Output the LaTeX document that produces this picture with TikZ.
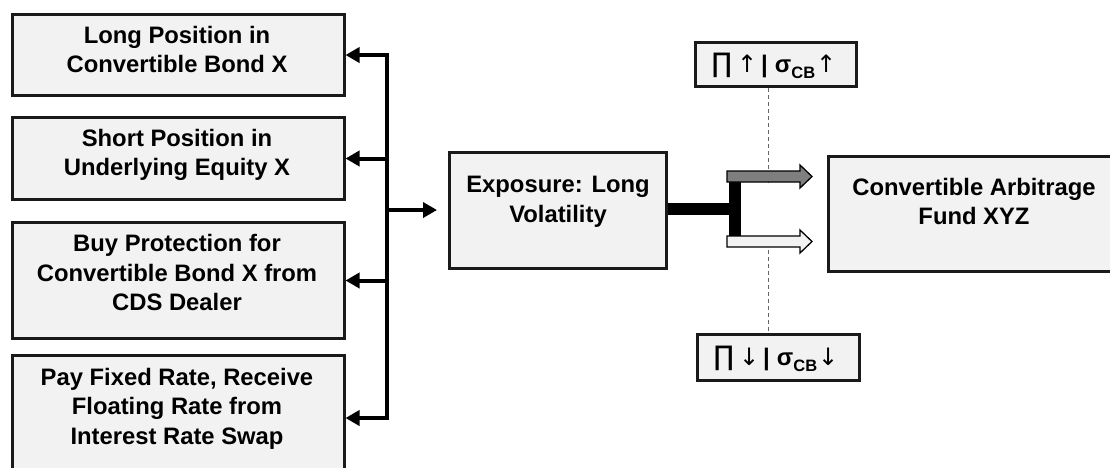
\documentclass[tikz,border=0pt]{standalone}
\usepackage{fontspec}
\setmainfont{Liberation Sans}
\newfontfamily\symfont{DejaVu Sans}
\usetikzlibrary{arrows.meta}
\definecolor{boxfill}{HTML}{F2F2F2}
\definecolor{boxline}{HTML}{1A1A1A}
\definecolor{darkarrow}{HTML}{7F7F7F}
\definecolor{dashgray}{HTML}{666666}
\tikzset{
  box/.style={draw=boxline, line width=3pt, fill=boxfill, inner sep=0pt},
  txt/.style={align=center, inner sep=0pt, font=\bfseries\fontsize{23.8}{29.5}\selectfont},
  symtxt/.style={inner sep=0pt, font=\fontsize{24}{24}\selectfont},
  bus/.style={line width=4pt, line join=miter, draw=black},
  tip/.style={-{Triangle[length=14pt,width=15pt]}},
  bothtips/.style={{Triangle[length=14pt,width=15pt]}-{Triangle[length=14pt,width=15pt]}},
  stem/.style={line width=12pt, draw=black},
  dashline/.style={draw=dashgray, line width=1pt, dash pattern=on 4pt off 3pt},
  blockarrow/.pic={
    \path[pic actions] (0,-5.5) -- (73,-5.5) -- (73,-11.5) -- (85,0)
      -- (73,11.5) -- (73,5.5) -- (0,5.5) -- cycle;
  }
}
% product sign, direction arrow, bar, sigma with CB index, direction arrow
\newcommand{\dirarrow}[1]{{\symfont\fontsize{24}{24}\selectfont #1}}
\newcommand{\sigcb}[1]{{\symfont\fontsize{27}{27}\selectfont\char"220F}\hspace{5pt}\dirarrow{#1}\hspace{4pt}\textbf{|}\hspace{7pt}\textbf{σ}\raisebox{-6pt}{\bfseries\fontsize{16.5}{16.5}\selectfont CB}\hspace{1pt}\dirarrow{#1}}

\begin{document}
\begin{tikzpicture}[x=1pt,y=-1pt]
\useasboundingbox (0,0) rectangle (1110,467);
\clip (0,0) rectangle (1110,467);

% left column of positions
\node[box, minimum width=332pt, minimum height=81pt] (pos1) at (178,55) {};
\node[box, minimum width=332pt, minimum height=82pt] (pos2) at (178,158.5) {};
\node[box, minimum width=332pt, minimum height=116pt] (pos3) at (178,280.5) {};
\node[box, minimum width=332pt, minimum height=125.5pt] (pos4) at (178,418) {};
\node[txt] (pos1t) at (177,49.5) {Long Position in\\Convertible Bond X};
\node[txt] (pos2t) at (177,155) {Short Position in\\Underlying Equity X};
\node[txt] (pos3t) at (177,272.5) {Buy Protection for\\Convertible Bond X from\\CDS Dealer};
\node[txt] (pos4t) at (177,408.5) {Pay Fixed Rate, Receive\\Floating Rate from\\Interest Rate Swap};

% exposure and fund
\node[box, minimum width=217pt, minimum height=116pt] (exp) at (558,210.5) {};
\node[txt] (expt) at (558,202) {Exposure: Long\\Volatility};
\node[box, minimum width=291.5pt, minimum height=115pt] (fund) at (974,214) {};
\node[txt] (fundt) at (974,201.5) {Convertible Arbitrage\\Fund XYZ};

% scenario labels
\node[box, minimum width=161pt, minimum height=44pt] (up) at (776,64.5) {};
\node[symtxt] (upt) at (774,66) {\sigcb{↑}};
\node[box, minimum width=162pt, minimum height=46pt] (down) at (778.5,357.5) {};
\node[symtxt] (downt) at (776,359) {\sigcb{↓}};

% bus feeding the four positions
\coordinate (bus) at (387,210);
\draw[bus, bothtips] (pos1.east) -| (bus) |- (pos4.east);
\draw[bus, tip] (bus |- pos2.east) -- (pos2.east);
\draw[bus, tip] (bus |- pos3.east) -- (pos3.east);
\draw[bus, tip] (bus) -- ([xshift=-11pt]exp.west |- bus);

% dashed divider
\coordinate (dash) at (768,0);
\coordinate (upA) at (727,176.5);
\coordinate (loA) at (727,241.5);
\draw[dashline] (up.south -| dash) -- ([yshift=-6pt]upA -| dash);
\draw[dashline] ([yshift=6pt]loA -| dash) -- (down.north -| dash);

% split into the two outcomes
\coordinate (split) at (735,209);
\draw[stem] (exp.east |- split) -- (split);
\draw[stem] (735,181) -- (735,237);
\pic[draw=black, line width=1.3pt, fill=darkarrow] at (upA) {blockarrow};
\pic[draw=black, line width=1.3pt, fill=boxfill] at (loA) {blockarrow};
\end{tikzpicture}
\end{document}
